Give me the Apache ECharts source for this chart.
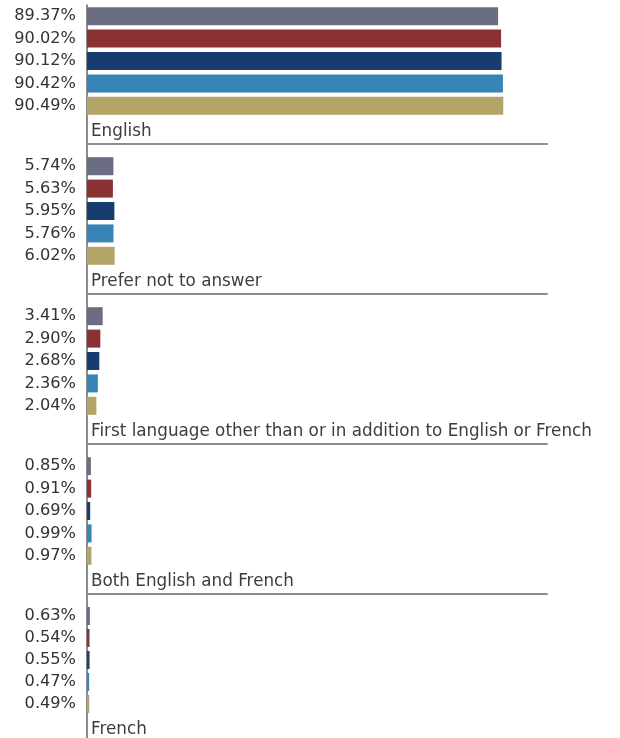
<!DOCTYPE html>
<html>
<head>
<meta charset="utf-8">
<script src="https://cdn.jsdelivr.net/npm/echarts@6/dist/echarts.min.js"></script>
<style>
  html, body { margin: 0; padding: 0; background: #fff; }
  #chart { width: 620px; height: 738px; }
</style>
</head>
<body>
<div id="chart"></div>
<script>
// Language groups, top to bottom
const languages = [
  'English',
  'Prefer not to answer',
  'First language other than or in addition to English or French',
  'Both English and French',
  'French'
];
// Share of respondents (%) per group, five bars each
const english = [89.37, 90.02, 90.12, 90.42, 90.49];
const preferNot = [5.74, 5.63, 5.95, 5.76, 6.02];
const otherLanguage = [3.41, 2.90, 2.68, 2.36, 2.04];
const bilingual = [0.85, 0.91, 0.69, 0.99, 0.97];
const french = [0.63, 0.54, 0.55, 0.47, 0.49];
const groupValues = [english, preferNot, otherLanguage, bilingual, french];

const barColors = ['#6b6d82', '#8b3033', '#163d6e', '#3685b6', '#b5a468'];

const FONT = '"DejaVu Sans", "Noto Sans", sans-serif';
const LEFT = 87, WIDTH = 460, GROUP_H = 150, BARS_TOP = 5, BARS_H = 112;

const grids = [], xAxes = [], yAxes = [], series = [];

groupValues.forEach((values, i) => {
  grids.push({ left: LEFT, width: WIDTH, top: BARS_TOP + GROUP_H * i, height: BARS_H });
  xAxes.push({
    gridIndex: i,
    type: 'value',
    min: 0,
    max: 100,
    offset: 27,
    axisLine: { show: true, lineStyle: { color: '#8c8c8c', width: 2 } },
    axisTick: { show: false },
    axisLabel: { show: false },
    splitLine: { show: false },
    name: languages[i],
    nameLocation: 'start',
    nameGap: -4,
    nameTextStyle: {
      align: 'left',
      verticalAlign: 'bottom',
      fontFamily: FONT,
      fontSize: 16.8,
      color: '#3d3d3d',
      padding: [0, 0, 4, 0]
    }
  });
  yAxes.push({
    gridIndex: i,
    type: 'category',
    inverse: true,
    data: values.map((_, j) => j),
    axisLine: { show: false },
    axisTick: { show: false },
    axisLabel: { show: false },
    splitLine: { show: false }
  });
  series.push({
    type: 'bar',
    xAxisIndex: i,
    yAxisIndex: i,
    barWidth: 18,
    silent: true,
    data: values.map((v, j) => ({ value: v, itemStyle: { color: barColors[j] } })),
    label: {
      show: true,
      position: 'left',
      distance: 11,
      formatter: p => p.value.toFixed(2) + '%',
      fontFamily: FONT,
      fontSize: 16.2,
      color: '#333'
    }
  });
});

// Full-height vertical baseline shared by all groups
grids.push({ left: LEFT, width: WIDTH, top: 5, bottom: 0 });
xAxes.push({ gridIndex: groupValues.length, type: 'value', show: false });
yAxes.push({
  gridIndex: groupValues.length,
  type: 'value',
  axisLine: { show: true, lineStyle: { color: '#666', width: 1.5 } },
  axisTick: { show: false },
  axisLabel: { show: false },
  splitLine: { show: false }
});

const chart = echarts.init(document.getElementById('chart'));
chart.setOption({
  animation: false,
  grid: grids,
  xAxis: xAxes,
  yAxis: yAxes,
  series: series
});
</script>
</body>
</html>
